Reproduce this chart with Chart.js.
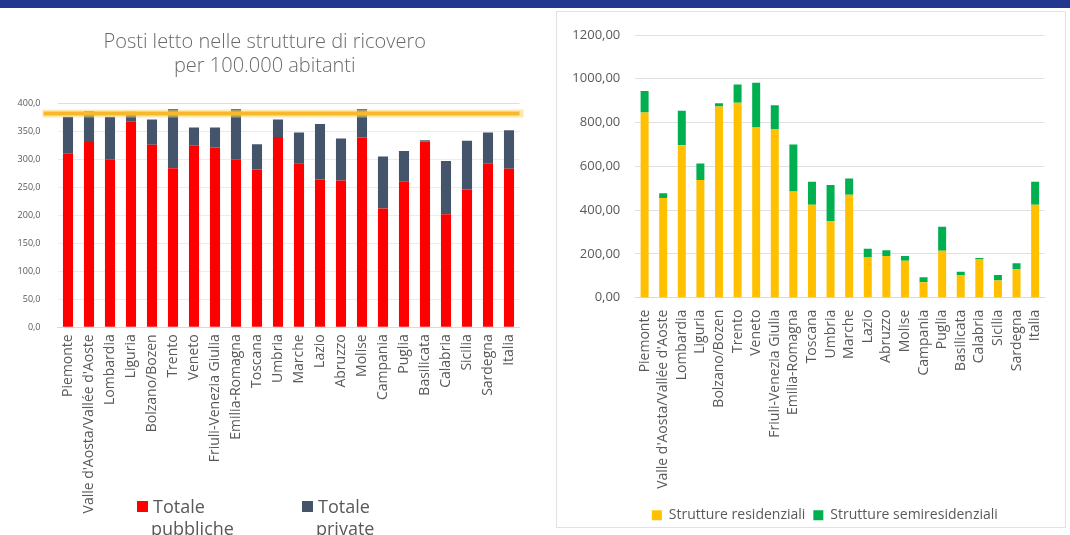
<!DOCTYPE html>
<html>
<head>
<meta charset="utf-8">
<script src="https://cdn.jsdelivr.net/npm/chart.js@4.4.1/dist/chart.umd.min.js"></script>
<style>
  html, body { margin: 0; padding: 0; background: #ffffff; }
  body { width: 1070px; height: 535px; position: relative; overflow: hidden; font-family: "Open Sans", Lato, sans-serif; }
  #band { position: absolute; left: 0; top: 0; width: 1070px; height: 8px; background: #22378f; }
  #leftWrap { position: absolute; left: 0; top: 8px; width: 545px; height: 527px; }
  #rightPanel { position: absolute; left: 556px; top: 11px; width: 508px; height: 515px; border: 1px solid #e2e2e2; }
  #rightWrap { position: absolute; left: 557px; top: 12px; width: 507px; height: 523px; }
  .leg { position: absolute; color: #595959; font-size: 18px; line-height: 22px; }
  .leg .sw { position: absolute; width: 11px; height: 11px; left: 0; top: 6px; }
  .leg .t1 { position: absolute; left: 16px; top: 0; white-space: nowrap; }
  .leg .t2 { position: absolute; left: 14px; top: 22px; white-space: nowrap; }
</style>
</head>
<body>
<div id="band"></div>
<div id="leftWrap"><canvas id="leftChart" width="545" height="527"></canvas></div>
<div id="rightPanel"></div>
<div id="rightWrap"><canvas id="rightChart" width="507" height="523"></canvas></div>
<div class="leg" style="left:137px; top:495px;"><div class="sw" style="background:#ff0000"></div><div class="t1">Totale</div><div class="t2">pubbliche</div></div>
<div class="leg" style="left:302px; top:495px;"><div class="sw" style="background:#44546a"></div><div class="t1">Totale</div><div class="t2">private</div></div>
<script>
// ---------- data ----------
const regions = ["Piemonte", "Valle d'Aosta/Vallée d'Aoste", "Lombardia", "Liguria", "Bolzano/Bozen", "Trento", "Veneto", "Friuli-Venezia Giulia", "Emilia-Romagna", "Toscana", "Umbria", "Marche", "Lazio", "Abruzzo", "Molise", "Campania", "Puglia", "Basilicata", "Calabria", "Sicilia", "Sardegna", "Italia"];

// Left chart: posti letto per 100.000 abitanti
const leftTitle = ["Posti letto nelle strutture di ricovero", "per 100.000 abitanti"];
const leftSeriesNames = ["Totale pubbliche", "Totale private"];
const totalePubbliche = [311, 331, 299, 367, 326, 284, 324, 321, 299, 282, 340, 293, 264, 262, 339, 212, 260, 332, 202, 246, 292, 283];
const totalePrivate   = [65, 55, 77, 18, 45, 106, 33, 36, 91, 45, 31, 55, 99, 75, 51, 93, 55, 2, 95, 87, 56, 69];
const leftThreshold = 382;
const leftTicks = [0, 50, 100, 150, 200, 250, 300, 350, 400];

// Right chart
const rightSeriesNames = ["Strutture residenziali", "Strutture semiresidenziali"];
const residenziali     = [846, 455, 696, 538, 873, 891, 778, 771, 485, 425, 350, 470, 184, 191, 169, 71, 214, 101, 175, 79, 131, 425];
const semiresidenziali = [98, 22, 158, 75, 15, 83, 204, 108, 215, 105, 165, 75, 40, 26, 22, 22, 110, 18, 6, 25, 26, 105];
const rightTicks = [0, 200, 400, 600, 800, 1000, 1200];

const TXT = '#595959';
const FONT = '"Open Sans"';

// ---------- left chart ----------
const thresholdPlugin = {
  id: 'thresholdLine',
  afterDatasetsDraw(chart) {
    const ys = chart.scales.y;
    const y = ys.getPixelForValue(leftThreshold);
    const ctx = chart.ctx;
    const a = chart.chartArea;
    ctx.save();
    ctx.strokeStyle = 'rgba(255,215,110,0.55)';
    ctx.lineWidth = 8;
    ctx.beginPath(); ctx.moveTo(a.left - 15, y); ctx.lineTo(a.right + 4, y); ctx.stroke();
    ctx.strokeStyle = '#f7b92a';
    ctx.lineWidth = 4;
    ctx.beginPath(); ctx.moveTo(a.left - 14, y); ctx.lineTo(a.right, y); ctx.stroke();
    ctx.restore();
  }
};

new Chart(document.getElementById('leftChart'), {
  type: 'bar',
  data: {
    labels: regions,
    datasets: [
      { label: leftSeriesNames[0], data: totalePubbliche, backgroundColor: '#ff0000', barPercentage: 0.48, categoryPercentage: 1 },
      { label: leftSeriesNames[1], data: totalePrivate, backgroundColor: '#44546a', barPercentage: 0.48, categoryPercentage: 1 }
    ]
  },
  options: {
    responsive: false,
    animation: false,
    layout: { padding: { left: 10, right: 25.5, top: 0, bottom: 0 } },
    plugins: {
      legend: { display: false },
      tooltip: { enabled: false },
      title: {
        display: true,
        text: leftTitle,
        color: '#6a6a6a',
        font: { family: FONT, size: 20, weight: '300', lineHeight: 1.2 },
        padding: { top: 22, bottom: 25.3 }
      }
    },
    scales: {
      x: {
        stacked: true,
        grid: { display: false, drawTicks: false },
        border: { display: true, color: '#d9d9d9' },
        ticks: { autoSkip: false, maxRotation: 90, minRotation: 90, padding: 7, color: TXT, font: { family: FONT, size: 14 } },
        afterFit(s) { s.height = 207.7; }
      },
      y: {
        stacked: true,
        min: 0, max: 400,
        afterBuildTicks(s) { s.ticks = leftTicks.map(v => ({ value: v })); },
        grid: { drawTicks: false, color: (c) => c.tick && c.tick.value === 400 ? '#d3e6d3' : '#ececec' },
        border: { display: false },
        ticks: { padding: 17, color: TXT, font: { family: FONT, size: 9 },
                 callback: (v) => Number(v).toFixed(1).replace('.', ',') },
        afterFit(s) { s.width = 47.5; }
      }
    }
  },
  plugins: [thresholdPlugin]
});

// ---------- right chart ----------
const legendShift = {
  id: 'legendShift',
  afterLayout(chart) {
    const l = chart.legend;
    if (l) { l.left += 16; l.right += 16; }
  }
};

new Chart(document.getElementById('rightChart'), {
  type: 'bar',
  data: {
    labels: regions,
    datasets: [
      { label: rightSeriesNames[0], data: residenziali, backgroundColor: '#ffc000', barPercentage: 0.43, categoryPercentage: 1 },
      { label: rightSeriesNames[1], data: semiresidenziali, backgroundColor: '#00b050', barPercentage: 0.43, categoryPercentage: 1 }
    ]
  },
  options: {
    responsive: false,
    animation: false,
    layout: { padding: { left: 0, right: 3.3, top: 23, bottom: 2.8 } },
    plugins: {
      tooltip: { enabled: false },
      legend: {
        display: true,
        position: 'bottom',
        labels: { color: TXT, boxWidth: 10, boxHeight: 10, padding: 8, font: { family: FONT, size: 14 } }
      }
    },
    scales: {
      x: {
        stacked: true,
        grid: { display: false, drawTicks: false },
        border: { display: true, color: '#d9d9d9' },
        ticks: { autoSkip: false, maxRotation: 90, minRotation: 90, padding: 12, color: TXT, font: { family: FONT, size: 14 } },
        afterFit(s) { s.height = 202.5; }
      },
      y: {
        stacked: true,
        min: 0, max: 1200,
        afterBuildTicks(s) { s.ticks = rightTicks.map(v => ({ value: v })); },
        grid: { drawTicks: false, color: '#e0e0e0' },
        border: { display: false },
        ticks: { padding: 15, color: TXT, font: { family: FONT, size: 13 },
                 callback: (v) => Number(v).toFixed(2).replace('.', ',') },
        afterFit(s) { s.width = 78.3; }
      }
    }
  },
  plugins: [legendShift]
});
</script>
</body>
</html>
